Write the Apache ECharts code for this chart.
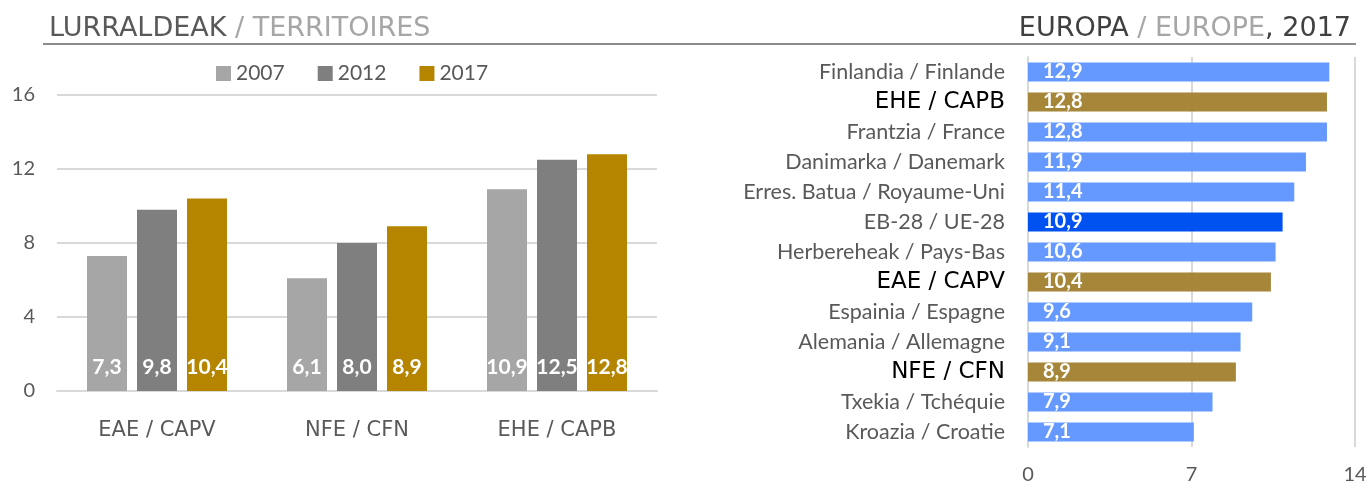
<!DOCTYPE html>
<html>
<head>
<meta charset="utf-8">
<script src="https://cdn.jsdelivr.net/npm/echarts@6/dist/echarts.min.js"></script>
<style>
  html, body { margin: 0; padding: 0; background: #fff; }
  #main { width: 1372px; height: 486px; }
</style>
</head>
<body>
<div id="main"></div>
<script>
// lurraldeak / territoires
var territories = ["EAE / CAPV", "NFE / CFN", "EHE / CAPB"];
var years = ["2007", "2012", "2017"];
var values2007 = [7.3, 6.1, 10.9];
var values2012 = [9.8, 8.0, 12.5];
var values2017 = [10.4, 8.9, 12.8];
var leftTicks = [0, 4, 8, 12, 16];

// europa / europe, 2017
var countries = [
  "Finlandia / Finlande", "EHE / CAPB", "Frantzia / France", "Danimarka / Danemark",
  "Erres. Batua / Royaume-Uni", "EB-28 / UE-28", "Herbereheak / Pays-Bas", "EAE / CAPV",
  "Espainia / Espagne", "Alemania / Allemagne", "NFE / CFN", "Txekia / Tchéquie", "Kroazia / Croatie"
];
var countryValues = [12.9, 12.8, 12.8, 11.9, 11.4, 10.9, 10.6, 10.4, 9.6, 9.1, 8.9, 7.9, 7.1];
var ownTerritories = ["EHE / CAPB", "EAE / CAPV", "NFE / CFN"];
var euAverage = "EB-28 / UE-28";

var body = "Lato, 'Open Sans', sans-serif";
var head = "'DejaVu Sans', sans-serif";
var comma = function (v) { return v.toFixed(1).replace(".", ","); };

var myChart = echarts.init(document.getElementById("main"));

var barLabel = {
  show: true,
  position: "insideBottom",
  distance: 13,
  color: "#fff",
  fontFamily: body,
  fontWeight: "bold",
  fontSize: 21,
  formatter: function (p) { return comma(p.value); }
};

var option = {
  animation: false,
  title: [
    {
      text: "{a|LURRALDEAK }{b|/ TERRITOIRES}",
      left: 44, top: 10,
      textStyle: {
        rich: {
          a: { fontFamily: head, fontSize: 27, fontWeight: "normal", color: "#595959" },
          b: { fontFamily: head, fontSize: 27, fontWeight: "normal", color: "#a6a6a6" }
        }
      }
    },
    {
      text: "{a|EUROPA }{b|/ EUROPE}{a|, 2017}",
      right: 16, top: 10,
      textStyle: {
        rich: {
          a: { fontFamily: head, fontSize: 27, fontWeight: "normal", color: "#404040" },
          b: { fontFamily: head, fontSize: 27, fontWeight: "normal", color: "#a6a6a6" }
        }
      }
    }
  ],
  graphic: [
    {
      type: "line",
      shape: { x1: 43, y1: 44, x2: 1356, y2: 44 },
      style: { stroke: "#8c8c8c", lineWidth: 2 }
    }
  ],
  legend: {
    data: years,
    left: 211, top: 58,
    itemWidth: 15, itemHeight: 15, itemGap: 33,
    icon: "rect",
    textStyle: { fontFamily: body, fontSize: 21, color: "#595959" }
  },
  grid: [
    { left: 57, top: 95, width: 600, bottom: 95 },
    { left: 1028, right: 17, top: 57, bottom: 39 }
  ],
  xAxis: [
    {
      gridIndex: 0,
      type: "category",
      data: territories,
      axisTick: { show: false },
      axisLine: { lineStyle: { color: "#d9d9d9", width: 2 } },
      axisLabel: { margin: 29, fontFamily: head, fontSize: 21, color: "#595959" }
    },
    {
      gridIndex: 1,
      type: "value",
      min: 0, max: 14, interval: 7,
      axisLine: { show: false },
      axisTick: { show: false },
      splitLine: { lineStyle: { color: "#d9d9d9", width: 2 } },
      axisLabel: { margin: 18, fontFamily: body, fontSize: 20, color: "#595959" }
    }
  ],
  yAxis: [
    {
      gridIndex: 0,
      type: "value",
      min: leftTicks[0], max: leftTicks[leftTicks.length - 1], interval: 4,
      axisLine: { show: false },
      axisTick: { show: false },
      splitLine: { lineStyle: { color: "#d9d9d9", width: 2 } },
      axisLabel: { margin: 22, fontFamily: body, fontSize: 20, color: "#595959" }
    },
    {
      gridIndex: 1,
      type: "category",
      data: countries,
      inverse: true,
      axisTick: { show: false },
      axisLine: { lineStyle: { color: "#d9d9d9", width: 2 } },
      axisLabel: {
        margin: 23,
        fontFamily: body, fontSize: 21.5, color: "#595959",
        formatter: function (name) {
          return ownTerritories.indexOf(name) >= 0 ? "{hl|" + name + "}" : name;
        },
        rich: {
          hl: { fontFamily: head, fontSize: 23, color: "#000" }
        }
      }
    }
  ],
  series: [
    {
      name: "2007", type: "bar", xAxisIndex: 0, yAxisIndex: 0,
      barWidth: 40, barGap: "25%",
      itemStyle: { color: "#a6a6a6" },
      label: barLabel,
      data: values2007
    },
    {
      name: "2012", type: "bar", xAxisIndex: 0, yAxisIndex: 0,
      barWidth: 40, barGap: "25%",
      itemStyle: { color: "#7f7f7f" },
      label: barLabel,
      data: values2012
    },
    {
      name: "2017", type: "bar", xAxisIndex: 0, yAxisIndex: 0,
      barWidth: 40, barGap: "25%",
      itemStyle: { color: "#b58500" },
      label: barLabel,
      data: values2017
    },
    {
      name: "Europa", type: "bar", xAxisIndex: 1, yAxisIndex: 1,
      barWidth: 19,
      itemStyle: {
        color: function (p) {
          if (ownTerritories.indexOf(p.name) >= 0) return "#a68638";
          if (p.name === euAverage) return "#0052f0";
          return "#6699ff";
        }
      },
      label: {
        show: true,
        position: "insideLeft",
        distance: 15,
        color: "#fff",
        fontFamily: body,
        fontWeight: "bold",
        fontSize: 20,
        formatter: function (p) { return comma(p.value); }
      },
      data: countryValues
    }
  ]
};

myChart.setOption(option);
</script>
</body>
</html>
